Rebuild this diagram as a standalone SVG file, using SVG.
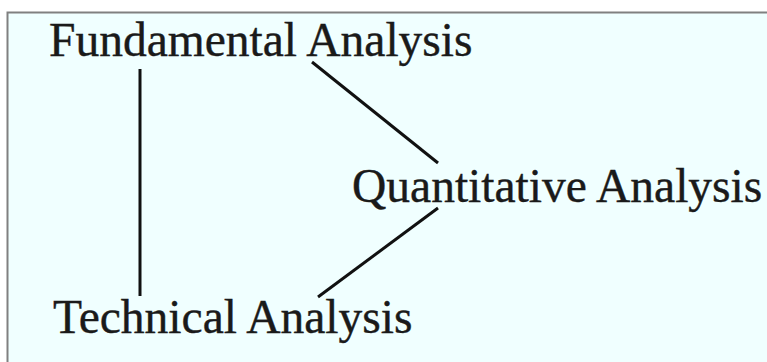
<svg xmlns="http://www.w3.org/2000/svg" width="767" height="362" viewBox="0 0 767 362">
<style>
.lbl{font-family:"Liberation Serif","Times New Roman",serif;font-size:47.5px;fill:#1a1a1a;stroke:#1a1a1a;stroke-width:0.4}
.edge{stroke:#111;stroke-width:3;stroke-linecap:butt;fill:none}
</style>
<rect x="0" y="0" width="767" height="362" fill="#ffffff"/>
<rect x="7.5" y="12.5" width="770" height="360" fill="#f0ffff" stroke="#808080" stroke-width="2"/>
<g id="connectors">
<line class="edge" x1="140" y1="69" x2="140" y2="296"/>
<line class="edge" x1="312" y1="62" x2="438" y2="163"/>
<line class="edge" x1="438" y1="208" x2="318" y2="297"/>
</g>
<g id="fundamental"><text class="lbl" x="49" y="56">Fundamental Analysis</text></g>
<g id="quantitative"><text class="lbl" x="352" y="202">Quantitative Analysis</text></g>
<g id="technical"><text class="lbl" x="53" y="333">Technical Analysis</text></g>
</svg>
